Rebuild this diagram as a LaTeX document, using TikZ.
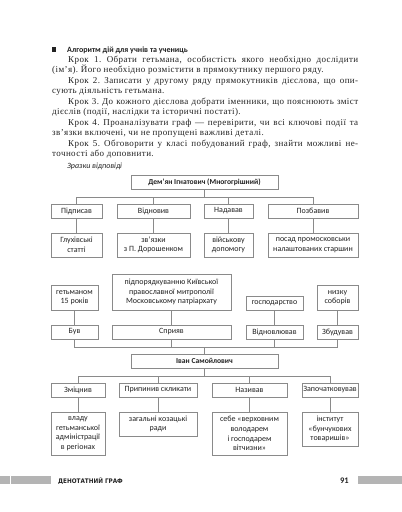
\documentclass[tikz,border=0pt]{standalone}
\usepackage{fontspec}
\setmainfont{Liberation Serif}[LetterSpace=4.5]
\setsansfont{Carlito}
\newfontfamily\condfont{DejaVu Sans Condensed}
\definecolor{txt}{HTML}{222222}
\definecolor{boxgray}{HTML}{8A8A8A}
\definecolor{bargray}{HTML}{B4B4B4}
\begin{document}
\begin{tikzpicture}[x=1pt,y=-1pt,
  box/.style={draw=boxgray, line width=0.6pt, inner sep=1pt, align=center,
    font=\sffamily\fontsize{8}{9.6}\selectfont, text=txt},
  bbox/.style={box, font=\sffamily\bfseries\fontsize{7.6}{9}\selectfont},
  link/.style={draw=boxgray, line width=0.6pt}]
\useasboundingbox (0,0) rectangle (402,512);
\fill[white] (0,0) rectangle (402,512);
% heading
\fill[txt] (51.5,47) rectangle (56,51.5);
\node[anchor=base west, inner sep=0, text=txt] (head) at (67,52.5)
  {\sffamily\bfseries\fontsize{8}{9}\selectfont Алгоритм дій для учнів та учениць};
\node[anchor=base west, inner sep=0, text=txt] (body) at (52,62.5) {\parbox[t]{306pt}{%
  \fontsize{9}{10.45}\selectfont\frenchspacing\setlength\parindent{16pt}\hyphenpenalty=10000\tolerance=10000
  Крок 1. Обрати гетьмана, особистість якого необхідно дослідити\linebreak
  (ім’я). Його необхідно розмістити в прямокутнику першого ряду.\par
  Крок 2. Записати у другому ряду прямокутників дієслова, що опи-\linebreak
  сують діяльність гетьмана.\par
  Крок 3. До кожного дієслова добрати іменники, що пояснюють зміст\linebreak
  дієслів (події, наслідки та історичні постаті).\par
  Крок 4. Проаналізувати граф — перевірити, чи всі ключові події та\linebreak
  зв’язки включені, чи не пропущені важливі деталі.\par
  Крок 5. Обговорити у класі побудований граф, знайти можливі не-\linebreak
  точності або доповнити.\par}};
\node[anchor=base west, inner sep=0, text=txt] (samples) at (67,168)
  {\sffamily\itshape\fontsize{8}{9}\selectfont Зразки відповіді};
% ---- first graph
\node[bbox, minimum width=147pt, minimum height=14pt] (D) at (204.5,182) {Дем’ян Ігнатович (Многогрішний)};
\node[box, minimum width=51pt, minimum height=14pt] (v1) at (76.5,211) {Підписав};
\node[box, minimum width=73pt, minimum height=14pt] (v2) at (153.5,211) {Відновив};
\node[box, minimum width=49pt, minimum height=14pt] (v3) at (228.5,211) {Надавав};
\node[box, minimum width=90pt, minimum height=14pt] (v4) at (313,211) {Позбавив};
\node[box, minimum width=51pt, minimum height=24pt] (n1) at (76.5,245) {Глухівські\\статті};
\node[box, minimum width=73pt, minimum height=24pt] (n2) at (153.5,245) {зв’язки\\з П. Дорошенком};
\node[box, minimum width=49pt, minimum height=24pt] (n3) at (228.5,245) {військову\\допомогу};
\node[box, minimum width=90pt, minimum height=24pt] (n4) at (313,245) {посад промосковськи\\налаштованих старшин};
\coordinate (bus1) at (204.5,197);
\draw[link] (D.south) -- (bus1);
\foreach \i in {1,...,4} {
  \draw[link] (v\i.north) |- (bus1);
  \draw[link] (v\i.south) -- (n\i.north);
}
% ---- second graph
\node[box, minimum width=47pt, minimum height=25pt] (g1) at (74.5,297.5) {гетьманом\\15 років};
\node[box, minimum width=119pt, minimum height=36pt] (g2) at (171.5,292) {підпорядкуванню Київської\\православної митрополії\\Московському патріархату};
\node[box, minimum width=57pt, minimum height=14pt] (g3) at (274.5,303) {господарство};
\node[box, minimum width=41pt, minimum height=25pt] (g4) at (337.5,297.5) {низку\\соборів};
\node[box, minimum width=47pt, minimum height=14pt] (h1) at (74.5,332) {Був};
\node[box, minimum width=119pt, minimum height=14pt] (h2) at (171.5,332) {Сприяв};
\node[box, minimum width=57pt, minimum height=14pt] (h3) at (274.5,332) {Відновлював};
\node[box, minimum width=41pt, minimum height=14pt] (h4) at (337.5,332) {Збудував};
\node[bbox, minimum width=147pt, minimum height=14pt] (I) at (204.5,361) {Іван Самойлович};
\coordinate (bus2) at (204.5,347.5);
\draw[link] (bus2) -- (I.north);
\foreach \i in {1,...,4} {
  \draw[link] (g\i.south) -- (h\i.north);
  \draw[link] (h\i.south) |- (bus2);
}
\node[box, minimum width=54pt, minimum height=14pt] (c1) at (78,390) {Зміцнив};
\node[box, minimum width=78pt, minimum height=14pt] (c2) at (158,390) {Припинив скликати};
\node[box, minimum width=75pt, minimum height=14pt] (c3) at (249.5,390) {Називав};
\node[box, minimum width=56pt, minimum height=14pt] (c4) at (330,390) {Започатковував};
\node[box, minimum width=54pt, minimum height=43pt] (d1) at (78,433.5) {владу\\гетьманської\\адміністрації\\в регіонах};
\node[box, minimum width=78pt, minimum height=24pt] (d2) at (158,424) {загальні козацькі\\ради};
\node[box, minimum width=75pt, minimum height=43pt] (d3) at (249.5,433.5) {себе «верховним\\володарем\\і господарем\\вітчизни»};
\node[box, minimum width=56pt, minimum height=34pt] (d4) at (330,429) {інститут\\«бунчукових\\товаришів»};
\coordinate (bus3) at (204.5,376);
\draw[link] (I.south) -- (bus3);
\foreach \i in {1,...,4} {
  \draw[link] (c\i.north) |- (bus3);
  \draw[link] (c\i.south) -- (d\i.north);
}
% ---- footer
\fill[bargray] (0,476) rectangle (51,484);
\draw[white, line width=0.5pt] (10,476) -- (10,484);
\fill[bargray] (358,476) rectangle (402,484);
\node[anchor=base west, inner sep=0, text=txt] (foot) at (58,483)
  {\condfont\bfseries\fontsize{6.3}{7}\selectfont ДЕНОТАТНИЙ ГРАФ};
\node[anchor=base east, inner sep=0, text=txt] (page) at (349,483.5)
  {\sffamily\bfseries\fontsize{8.5}{9}\selectfont 91};
\end{tikzpicture}
\end{document}
